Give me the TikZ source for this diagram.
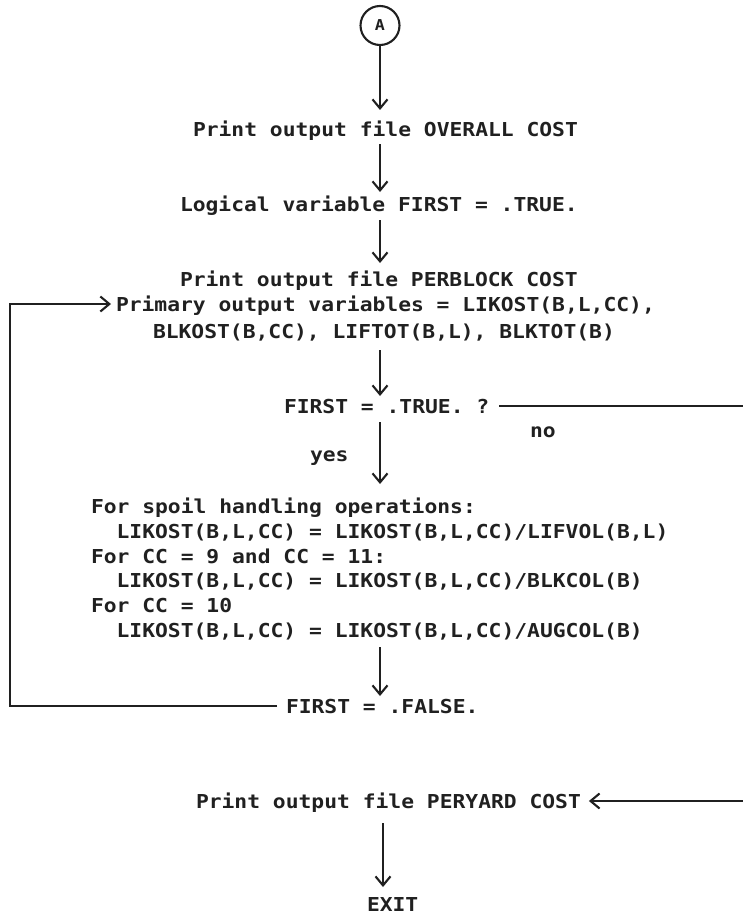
\documentclass[tikz,border=0pt]{standalone}
\usepackage{fontspec}
\newfontfamily\plotfont[FakeStretch=1.11]{DejaVu Sans Mono}
\usetikzlibrary{arrows.meta}
\definecolor{ink}{RGB}{32,32,32}
\begin{document}
\begin{tikzpicture}[x=1pt,y=-1pt,
  txt/.style={inner sep=0pt, outer sep=0pt, anchor=base west, text=ink,
    font=\plotfont\bfseries\fontsize{19.2}{25}\selectfont, text height=14pt, text depth=0pt},
  arr/.style={draw=ink, line width=2.1pt, -{Straight Barb[length=9pt,width=15pt,line width=2.1pt]}},
  conn/.style={circle, draw=ink, line width=2.1pt, minimum size=39pt, inner sep=0pt, text=ink,
    font=\plotfont\bfseries\fontsize{15}{15}\selectfont}]
\useasboundingbox (0,0) rectangle (742,915);
\coordinate (ax) at (380,0);
\coordinate (axb) at (383,0);
\coordinate (lx) at (10,0);
\coordinate (rx) at (752,0);

\node[conn] (A) at (380,25.5) {A};
\node[txt] (overall) at (193,136) {Print output file OVERALL COST};
\node[txt] (logical) at (180,211) {Logical variable FIRST = .TRUE.};
\node[txt] (perblock) at (180,286) {Print output file PERBLOCK COST};
\node[txt] (primary) at (116,311) {Primary output variables = LIKOST(B,L,CC),};
\node[txt] (blkost) at (153,338) {BLKOST(B,CC), LIFTOT(B,L), BLKTOT(B)};
\node[txt] (true) at (284,413) {FIRST = .TRUE. ?};
\node[txt] (no) at (530,437) {no};
\node[txt] (yes) at (310,461) {yes};
\node[txt] (s1) at (91,513) {For spoil handling operations:};
\node[txt] (s2) at (91,538) {\ \ LIKOST(B,L,CC) = LIKOST(B,L,CC)/LIFVOL(B,L)};
\node[txt] (s3) at (91,563) {For CC = 9 and CC = 11:};
\node[txt] (s4) at (91,587.5) {\ \ LIKOST(B,L,CC) = LIKOST(B,L,CC)/BLKCOL(B)};
\node[txt] (s5) at (91,612) {For CC = 10};
\node[txt] (s6) at (91,637) {\ \ LIKOST(B,L,CC) = LIKOST(B,L,CC)/AUGCOL(B)};
\node[txt] (false) at (286,713) {FIRST = .FALSE.};
\node[txt] (peryard) at (196,808) {Print output file PERYARD COST};
\node[txt] (exit) at (367,911) {EXIT};

\draw[arr, shorten >=12pt] (A.south) -- (A.south |- overall.north);
\draw[arr, shorten <=8pt, shorten >=5pt] (overall.south -| ax) -- (logical.north -| ax);
\draw[arr, shorten <=9pt, shorten >=9pt] (logical.south -| ax) -- (perblock.north -| ax);
\draw[arr, shorten <=12pt, shorten >=3pt] (blkost.south -| ax) -- (true.north -| ax);
\draw[arr, shorten <=9pt, shorten >=15pt] (true.south -| ax) -- (s1.north -| ax);
\draw[arr, shorten <=10pt, shorten >=3pt] (s6.south -| ax) -- (false.north -| ax);
\draw[arr, shorten <=15pt, shorten >=10pt] (peryard.south -| axb) -- (exit.north -| axb);

\draw[arr, shorten <=9pt, shorten >=5pt] (false.west) -- (false.west -| lx) -- (primary.west -| lx) -- (primary.west);
\draw[arr, shorten <=10pt, shorten >=8pt] (true.east) -- (true.east -| rx) -- (peryard.east -| rx) -- (peryard.east);
\end{tikzpicture}
\end{document}
